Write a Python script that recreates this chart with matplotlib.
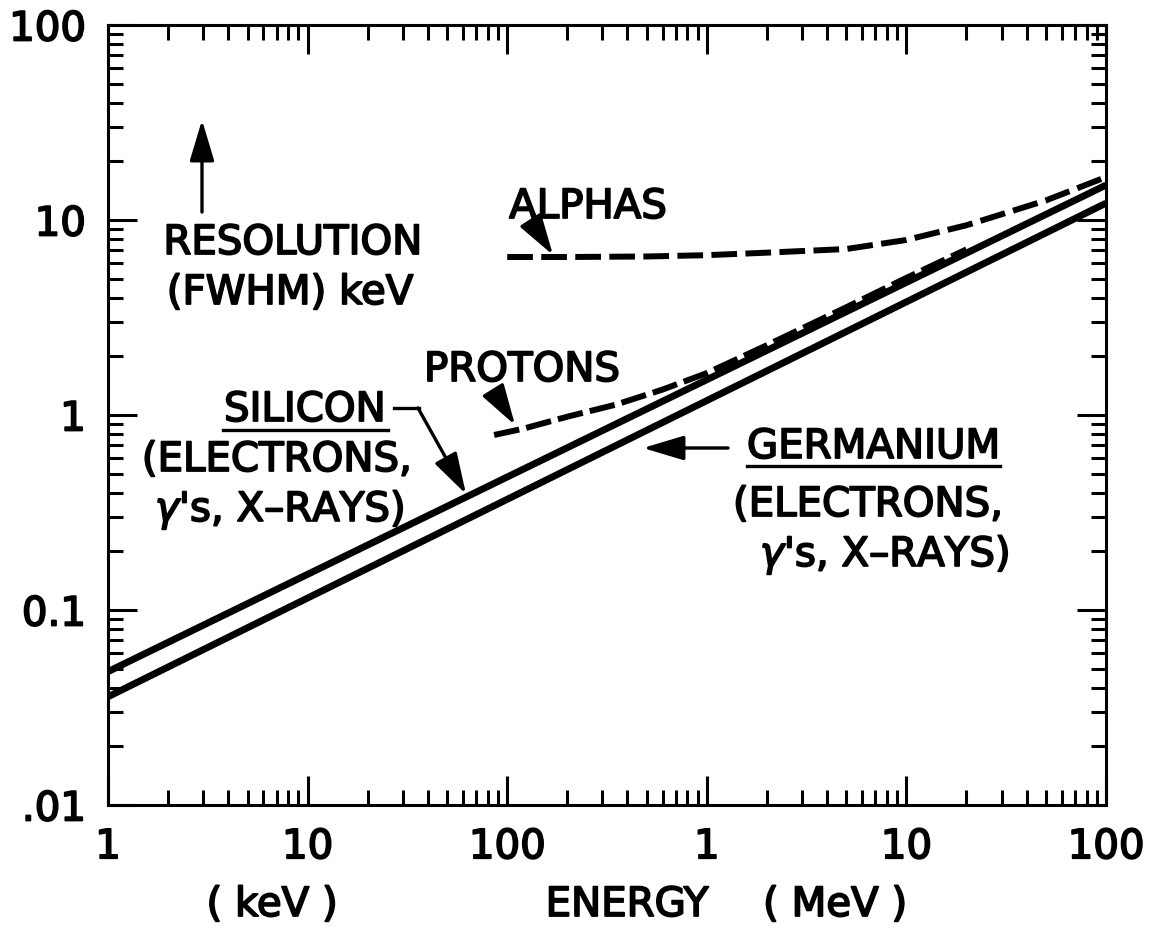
import matplotlib
matplotlib.use("Agg")
import matplotlib.pyplot as plt
import matplotlib.patheffects as pe
from matplotlib.ticker import FixedLocator, LogLocator, NullFormatter

plt.rcParams['font.family'] = ['DejaVu Sans']
plt.rcParams['mathtext.fontset'] = 'dejavusans'

# ---- data (energy in keV, resolution FWHM in keV) ----
si_energy = [1, 100000]
si_fwhm = [0.0483, 15.1]

ge_energy = [1, 100000]
ge_fwhm = [0.0359, 12.2]

alpha_energy = [100, 200, 500, 1000, 2000, 5000, 10000, 20000, 50000, 100000]
alpha_fwhm = [6.46, 6.46, 6.5, 6.6, 6.8, 7.1, 7.9, 9.4, 12.6, 16.6]

proton_energy = [86, 120, 200, 350, 600, 1000, 2000, 5000, 10000, 20000]
proton_fwhm = [0.79, 0.85, 0.98, 1.13, 1.35, 1.64, 2.28, 3.57, 5.05, 7.07]

x_ticks = [1, 10, 100, 1000, 10000, 100000]
x_tick_labels = ['1', '10', '100', '1', '10', '100']
y_ticks = [0.01, 0.1, 1, 10, 100]
y_tick_labels = ['.01', '0.1', '1', '10', '100']

W, H = 1153, 933
fig = plt.figure(figsize=(W / 100, H / 100), dpi=100)
ax = fig.add_axes([108 / W, 1 - 805 / H, 998 / W, 780 / H])
ax.set_xscale('log')
ax.set_yscale('log')
ax.set_xlim(1, 100000)
ax.set_ylim(0.01, 100)

lw_solid = 5.0
lw_dash = 4.3
ax.plot(si_energy, si_fwhm, color='black', lw=lw_solid, solid_capstyle='butt')
ax.plot(ge_energy, ge_fwhm, color='black', lw=lw_solid, solid_capstyle='butt')
ax.plot(alpha_energy, alpha_fwhm, color='black', lw=lw_dash,
        linestyle=(0, (4.3, 1.4)), dash_capstyle='butt')
ax.plot(proton_energy, proton_fwhm, color='black', lw=lw_dash,
        linestyle=(0, (4.3, 1.2)), dash_capstyle='butt')

heavy = [pe.withStroke(linewidth=1.3, foreground='black')]

# ---- ticks ----
for s in ax.spines.values():
    s.set_linewidth(2.2)
ax.xaxis.set_major_locator(FixedLocator(x_ticks))
ax.xaxis.set_minor_locator(LogLocator(base=10, subs=range(2, 10), numticks=20))
ax.yaxis.set_major_locator(FixedLocator(y_ticks))
ax.yaxis.set_minor_locator(LogLocator(base=10, subs=range(2, 10), numticks=20))
ax.xaxis.set_minor_formatter(NullFormatter())
ax.yaxis.set_minor_formatter(NullFormatter())
ax.set_xticklabels(x_tick_labels)
ax.set_yticklabels(y_tick_labels)
ax.tick_params(which='both', direction='in', top=True, right=True, width=2.2)
ax.tick_params(which='major', length=21, labelsize=29, pad=16)
ax.tick_params(which='minor', length=10.5)
for lab in ax.get_xticklabels() + ax.get_yticklabels():
    lab.set_path_effects(heavy)

fs = 29
T = ax.transAxes


def fx(px):
    return (px - 108) / 998


def fy(py):
    return (805 - py) / 780


def label(px, py, s, ha='center'):
    ax.text(fx(px), fy(py), s, transform=T, ha=ha, va='center', fontsize=fs,
            path_effects=heavy)


arrow_kw = dict(arrowstyle='-|>,head_length=1.4,head_width=0.42',
                color='black', lw=2.4, mutation_scale=18, shrinkA=0, shrinkB=0)

# Resolution axis label with up arrow
ax.annotate('', xy=(fx(202), fy(120)), xytext=(fx(202), fy(212)),
            xycoords=T, textcoords=T, arrowprops=arrow_kw)
label(293, 243, 'RESOLUTION')
label(290, 293, '(FWHM) keV')

# Alphas
label(588, 207, 'ALPHAS')
ax.annotate('', xy=(fx(553), fy(255)), xytext=(fx(533), fy(224)),
            xycoords=T, textcoords=T, arrowprops=arrow_kw)

# Protons
label(522, 370, 'PROTONS')
ax.annotate('', xy=(fx(515), fy(425)), xytext=(fx(495), fy(393)),
            xycoords=T, textcoords=T, arrowprops=arrow_kw)

# Silicon
label(305, 410, 'SILICON')
ax.plot([fx(223), fx(388)], [fy(430), fy(430)], transform=T, color='black', lw=2.4,
        clip_on=False)
ax.plot([fx(394), fx(419)], [fy(408), fy(408)], transform=T, color='black', lw=2.4,
        clip_on=False)
ax.annotate('', xy=(fx(466), fy(494)), xytext=(fx(418), fy(408)),
            xycoords=T, textcoords=T, arrowprops=arrow_kw)
label(412, 460, '(ELECTRONS,', ha='right')
label(404, 510, "$\\gamma$'s, X–RAYS)", ha='right')

# Germanium
label(747, 447, 'GERMANIUM', ha='left')
ax.plot([fx(747), fx(1000)], [fy(466), fy(466)], transform=T, color='black', lw=2.4,
        clip_on=False)
ax.annotate('', xy=(fx(643), fy(448)), xytext=(fx(728), fy(448)),
            xycoords=T, textcoords=T, arrowprops=arrow_kw)
label(733, 505, '(ELECTRONS,', ha='left')
label(760, 555, "$\\gamma$'s, X–RAYS)", ha='left')

# Energy axis label
for px, s in [(272, '( keV )'), (627, 'ENERGY'), (835, '( MeV )')]:
    fig.text(px / W, 1 - 905 / H, s, ha='center', va='center', fontsize=fs,
             path_effects=heavy)

fig.savefig('out.png', dpi=100)
